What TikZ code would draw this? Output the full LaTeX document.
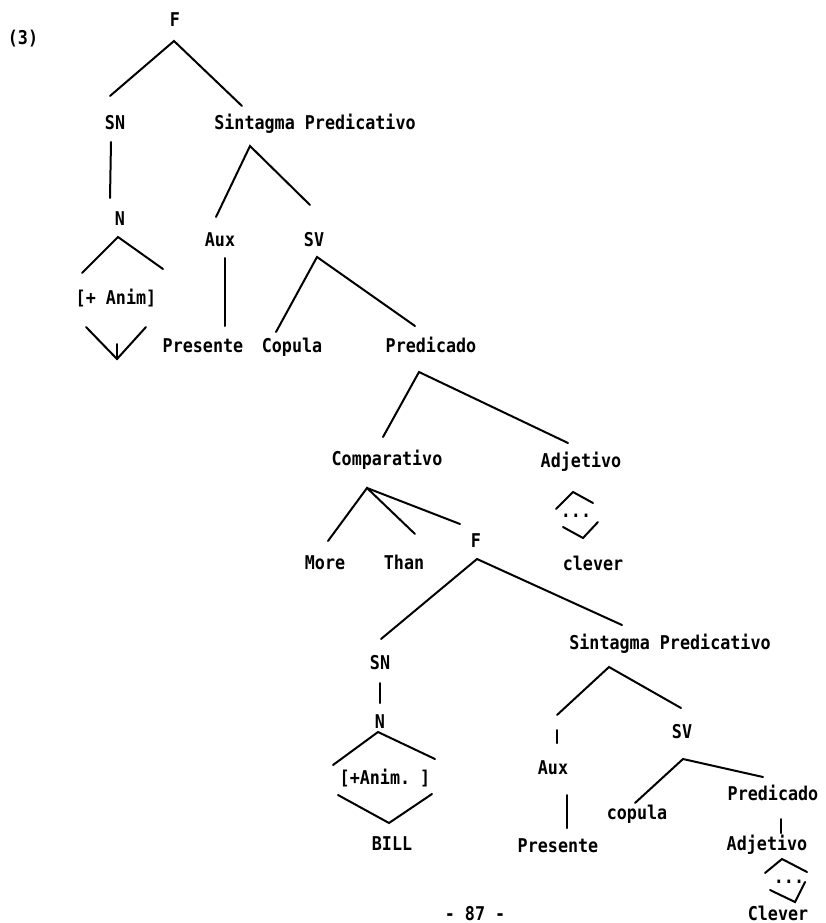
\documentclass[tikz,border=0pt]{standalone}
\usepackage{fontspec}
\setmonofont[FakeStretch=0.88]{DejaVu Sans Mono}
\begin{document}
\begin{tikzpicture}[x=1pt,y=-1pt,
  lbl/.style={font=\ttfamily\bfseries\fontsize{19}{22}\selectfont, anchor=base, yshift=-7pt, inner sep=0pt},
  br/.style={line width=2pt, line cap=round, line join=miter}]
\useasboundingbox (0,0) rectangle (825,923);
% labels
\node[lbl] (n3) at (23,38) {(3)};
\node[lbl] (F1) at (175,20) {F};
\node[lbl] (SN1) at (115,123) {SN};
\node[lbl] (SP1) at (315,123) {Sintagma Predicativo};
\node[lbl] (N1) at (120,218) {N};
\node[lbl] (anim1) at (116,297) {[+ Anim]};
\node[lbl] (aux1) at (220,239) {Aux};
\node[lbl] (sv1) at (314,239) {SV};
\node[lbl] (pres1) at (203,345) {Presente};
\node[lbl] (cop1) at (292,345) {Copula};
\node[lbl] (pred1) at (431,345) {Predicado};
\node[lbl] (comp) at (387,458) {Comparativo};
\node[lbl] (adj1) at (581,460) {Adjetivo};
\node[lbl] (dots1) at (576,510) {...};
\node[lbl] (more) at (325,562) {More};
\node[lbl] (than) at (404,562) {Than};
\node[lbl] (F2) at (476,540) {F};
\node[lbl] (clever1) at (593,563) {clever};
\node[lbl] (SP2) at (670,642) {Sintagma Predicativo};
\node[lbl] (SN2) at (380,662) {SN};
\node[lbl] (N2) at (380,721) {N};
\node[lbl] (anim2) at (385,777) {[+Anim. ]};
\node[lbl] (bill) at (392,843) {BILL};
\node[lbl] (aux2) at (553,767) {Aux};
\node[lbl] (pres2) at (558,845) {Presente};
\node[lbl] (sv2) at (682,731) {SV};
\node[lbl] (cop2) at (637,812) {copula};
\node[lbl] (pred2) at (773,793) {Predicado};
\node[lbl] (adj2) at (767,843) {Adjetivo};
\node[lbl] (dots2) at (789,876) {...};
\node[lbl] (clever2) at (778,913) {Clever};
\node[lbl] (page) at (475,913) {- 87 -};
% branch points
\coordinate (a1) at (174,41);
\coordinate (a1l) at (110,96);
\coordinate (a1r) at (242,106);
\coordinate (s1t) at (111,142);
\coordinate (s1b) at (110,198);
\coordinate (d1a) at (118,237);
\coordinate (d1l) at (82,273);
\coordinate (d1r) at (163,269);
\coordinate (d1bl) at (86,327);
\coordinate (d1b) at (117,359);
\coordinate (d1br) at (146,327);
\coordinate (d1t) at (117,344);
\coordinate (a2) at (250,146);
\coordinate (a2l) at (216,217);
\coordinate (a2r) at (310,205);
\coordinate (x1t) at (225,258);
\coordinate (x1b) at (225,326);
\coordinate (a3) at (317,257);
\coordinate (a3l) at (276,332);
\coordinate (a3r) at (415,326);
\coordinate (a4) at (419,372);
\coordinate (a4l) at (383,437);
\coordinate (a4r) at (568,443);
\coordinate (e1l) at (556,509);
\coordinate (e1a) at (573,492);
\coordinate (e1r) at (593,503);
\coordinate (e1bl) at (563,527);
\coordinate (e1b) at (583,538);
\coordinate (e1br) at (598,522);
\coordinate (a5) at (367,488);
\coordinate (a5m) at (328,541);
\coordinate (a5t) at (415,534);
\coordinate (a5f) at (460,524);
\coordinate (a6) at (477,559);
\coordinate (a6l) at (381,639);
\coordinate (a6r) at (622,625);
\coordinate (s2t) at (380,683);
\coordinate (s2b) at (380,703);
\coordinate (d2a) at (378,732);
\coordinate (d2l) at (333,765);
\coordinate (d2r) at (435,759);
\coordinate (d2bl) at (338,795);
\coordinate (d2b) at (389,823);
\coordinate (d2br) at (432,794);
\coordinate (a7) at (609,667);
\coordinate (a7l) at (557,715);
\coordinate (a7r) at (681,708);
\coordinate (k1t) at (557,730);
\coordinate (k1b) at (557,743);
\coordinate (x2t) at (567,795);
\coordinate (x2b) at (567,828);
\coordinate (a8) at (683,759);
\coordinate (a8l) at (635,803);
\coordinate (a8r) at (763,777);
\coordinate (k2t) at (781,819);
\coordinate (k2b) at (781,833);
\coordinate (e2l) at (765,873);
\coordinate (e2a) at (782,859);
\coordinate (e2r) at (807,872);
\coordinate (e2bl) at (770,890);
\coordinate (e2b) at (795,902);
\coordinate (e2br) at (805,882);
% branches
\draw[br] (a1l) -- (a1) -- (a1r);
\draw[br] (s1t) -- (s1b);
\draw[br] (d1l) -- (d1a) -- (d1r);
\draw[br] (d1bl) -- (d1b) -- (d1br);
\draw[br] (d1t) -- (d1b);
\draw[br] (a2l) -- (a2) -- (a2r);
\draw[br] (x1t) -- (x1b);
\draw[br] (a3l) -- (a3) -- (a3r);
\draw[br] (a4l) -- (a4) -- (a4r);
\draw[br] (e1l) -- (e1a) -- (e1r);
\draw[br] (e1bl) -- (e1b) -- (e1br);
\draw[br] (a5m) -- (a5) -- (a5t);
\draw[br] (a5) -- (a5f);
\draw[br] (a6l) -- (a6) -- (a6r);
\draw[br] (s2t) -- (s2b);
\draw[br] (d2l) -- (d2a) -- (d2r);
\draw[br] (d2bl) -- (d2b) -- (d2br);
\draw[br] (a7l) -- (a7) -- (a7r);
\draw[br] (k1t) -- (k1b);
\draw[br] (x2t) -- (x2b);
\draw[br] (a8l) -- (a8) -- (a8r);
\draw[br] (k2t) -- (k2b);
\draw[br] (e2l) -- (e2a) -- (e2r);
\draw[br] (e2bl) -- (e2b) -- (e2br);
\end{tikzpicture}
\end{document}
